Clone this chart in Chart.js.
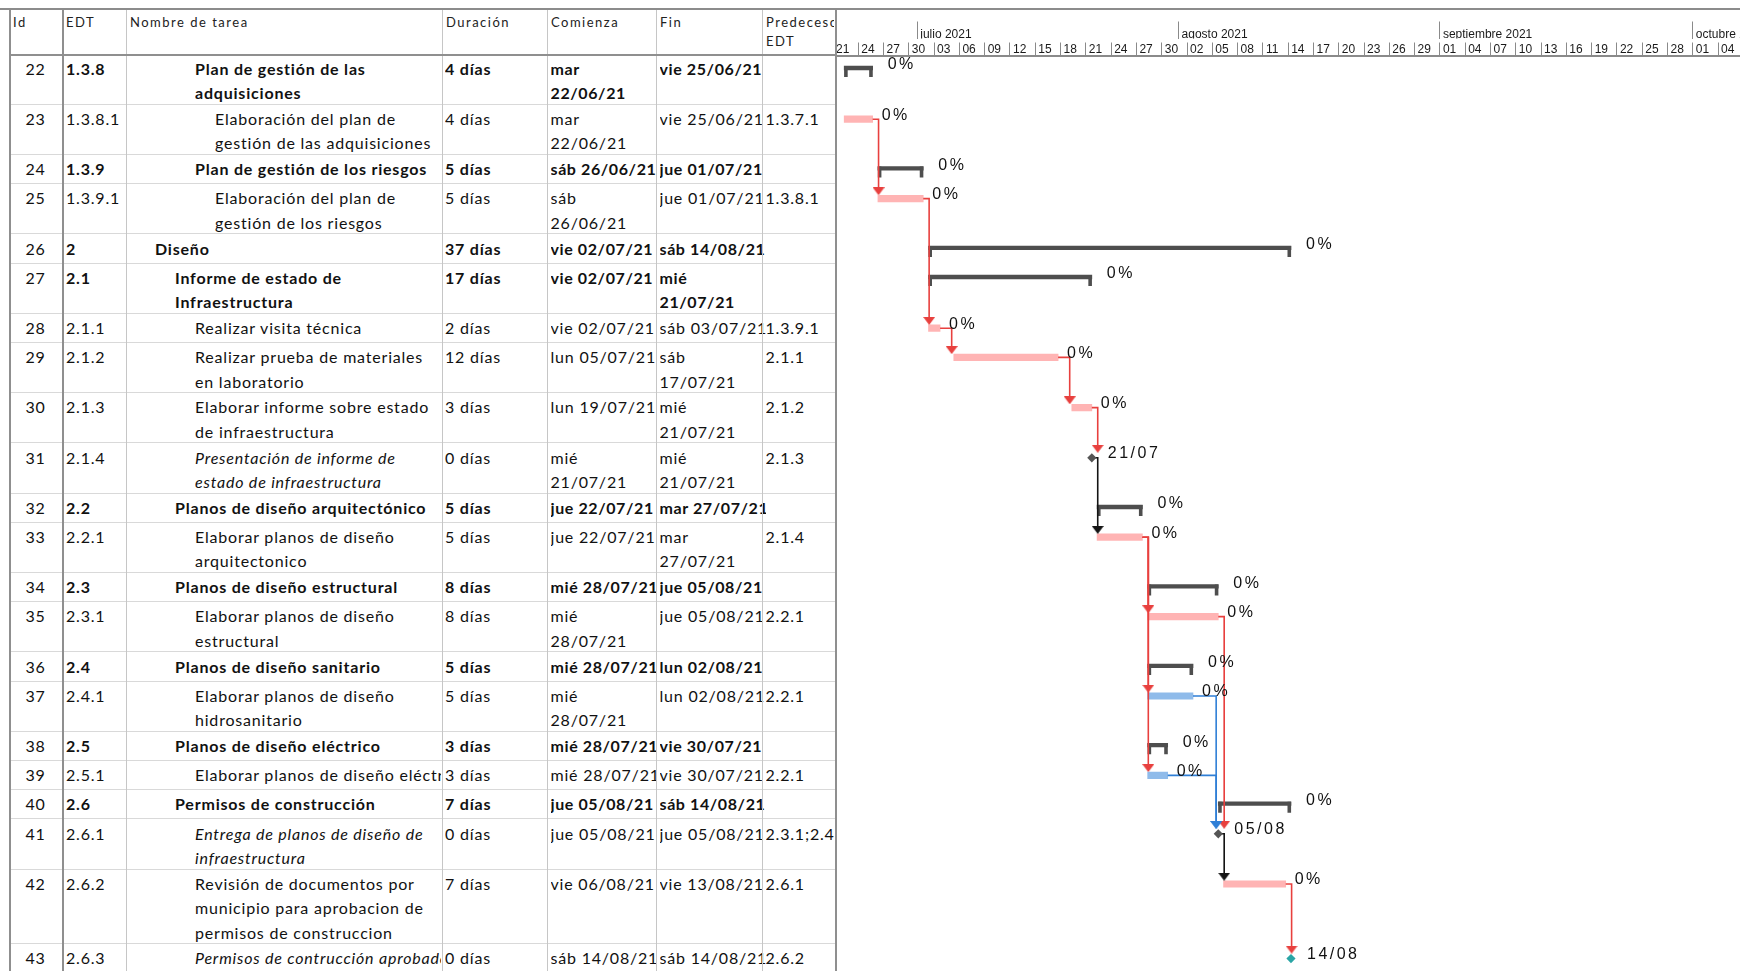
<!DOCTYPE html>
<html lang="es">
<head>
<meta charset="UTF-8" />
<title>Cronograma - Diseño</title>
<script src="https://cdn.jsdelivr.net/npm/chart.js"></script>
<style>
  html, body { margin: 0; padding: 0; background: #fff; }
  #hoja { position: relative; width: 1740px; height: 971px; overflow: hidden; font-family: Lato, "Open Sans", sans-serif; color: #111; }
  .celda { position: absolute; overflow: hidden; font-size: 16px; line-height: 24.4px; letter-spacing: 0.8px; white-space: nowrap; }
  .cab { position: absolute; overflow: hidden; font-size: 13px; line-height: 19px; letter-spacing: 1.5px; color: #222; white-space: pre; }
  .linea { position: absolute; }
  #gantt { position: absolute; left: 836px; top: 9px; width: 904px; height: 962px; }
</style>
</head>
<body>
<div id="hoja">
  <div id="gantt"><canvas id="grafico"></canvas></div>
</div>
<script>
// tareas visibles (Id 22 a 43)
const ids = [22, 23, 24, 25, 26, 27, 28, 29, 30, 31, 32, 33, 34, 35, 36, 37, 38, 39, 40, 41, 42, 43];
const edt = ['1.3.8', '1.3.8.1', '1.3.9', '1.3.9.1', '2', '2.1', '2.1.1', '2.1.2', '2.1.3', '2.1.4',
  '2.2', '2.2.1', '2.3', '2.3.1', '2.4', '2.4.1', '2.5', '2.5.1', '2.6', '2.6.1', '2.6.2', '2.6.3'];
const nombres = [
  'Plan de gestión de las\nadquisiciones',
  'Elaboración del plan de\ngestión de las adquisiciones',
  'Plan de gestión de los riesgos',
  'Elaboración del plan de\ngestión de los riesgos',
  'Diseño',
  'Informe de estado de\nInfraestructura',
  'Realizar visita técnica',
  'Realizar prueba de materiales\nen laboratorio',
  'Elaborar informe sobre estado\nde infraestructura',
  'Presentación de informe de\nestado de infraestructura',
  'Planos de diseño arquitectónico',
  'Elaborar planos de diseño\narquitectonico',
  'Planos de diseño estructural',
  'Elaborar planos de diseño\nestructural',
  'Planos de diseño sanitario',
  'Elaborar planos de diseño\nhidrosanitario',
  'Planos de diseño eléctrico',
  'Elaborar planos de diseño eléctrico',
  'Permisos de construcción',
  'Entrega de planos de diseño de\ninfraestructura',
  'Revisión de documentos por\nmunicipio para aprobacion de\npermisos de construccion',
  'Permisos de contrucción aprobados'
];
const duraciones = [4, 4, 5, 5, 37, 17, 2, 12, 3, 0, 5, 5, 8, 8, 5, 5, 3, 3, 7, 0, 7, 0];
const comienzos = ['2021-06-22 08:00', '2021-06-22 08:00', '2021-06-26 08:00', '2021-06-26 08:00',
  '2021-07-02 08:00', '2021-07-02 08:00', '2021-07-02 08:00', '2021-07-05 08:00', '2021-07-19 08:00',
  '2021-07-21 17:00', '2021-07-22 08:00', '2021-07-22 08:00', '2021-07-28 08:00', '2021-07-28 08:00',
  '2021-07-28 08:00', '2021-07-28 08:00', '2021-07-28 08:00', '2021-07-28 08:00', '2021-08-05 17:00',
  '2021-08-05 17:00', '2021-08-06 08:00', '2021-08-14 08:00'];
const fines = ['2021-06-25 17:00', '2021-06-25 17:00', '2021-07-01 17:00', '2021-07-01 17:00',
  '2021-08-14 08:00', '2021-07-21 17:00', '2021-07-03 17:00', '2021-07-17 17:00', '2021-07-21 17:00',
  '2021-07-21 17:00', '2021-07-27 17:00', '2021-07-27 17:00', '2021-08-05 17:00', '2021-08-05 17:00',
  '2021-08-02 17:00', '2021-08-02 17:00', '2021-07-30 17:00', '2021-07-30 17:00', '2021-08-14 08:00',
  '2021-08-05 17:00', '2021-08-13 17:00', '2021-08-14 08:00'];
const predecesoras = ['', '1.3.7.1', '', '1.3.8.1', '', '', '1.3.9.1', '2.1.1', '2.1.2', '2.1.3',
  '', '2.1.4', '', '2.2.1', '', '2.2.1', '', '2.2.1', '', '2.3.1;2.4.1;2.5.1', '2.6.1', '2.6.2'];
const completado = [0, 0, 0, 0, 0, 0, 0, 0, 0, 0, 0, 0, 0, 0, 0, 0, 0, 0, 0, 0, 0, 0];
const criticas = [true, true, true, true, true, true, true, true, true, true, true, true, true, true,
  true, false, true, false, true, true, true, true];

// escala de tiempo
const inicioEscala = '2021-06-21';
const pasoDias = 3;
const desdeDia = 0.36;
const diasVisibles = 107.24;
const meses = ['2021-07-01', '2021-08-01', '2021-09-01', '2021-10-01'];
const nombresMeses = ['julio 2021', 'agosto 2021', 'septiembre 2021', 'octubre 2021'];
const diasSemana = ['dom', 'lun', 'mar', 'mié', 'jue', 'vie', 'sáb'];

// ---------- utilidades de fecha ----------
const pad = n => String(n).padStart(2, '0');
function partes(s) {
  const [d, t = '00:00'] = s.split(' ');
  const [Y, M, D] = d.split('-').map(Number);
  const [h, m] = t.split(':').map(Number);
  return { Y, M, D, h, m };
}
const T0 = (() => { const p = partes(inicioEscala); return Date.UTC(p.Y, p.M - 1, p.D); })();
function dia(s) {
  const p = partes(s);
  return (Date.UTC(p.Y, p.M - 1, p.D, p.h, p.m) - T0) / 864e5;
}
function fecha(s) {
  const p = partes(s);
  const w = new Date(Date.UTC(p.Y, p.M - 1, p.D)).getUTCDay();
  return diasSemana[w] + ' ' + pad(p.D) + '/' + pad(p.M) + '/' + String(p.Y).slice(2);
}
function fechaCorta(s) { const p = partes(s); return pad(p.D) + '/' + pad(p.M); }

// ---------- estructura de filas ----------
const n = ids.length;
const esResumen = edt.map((e, i) => i + 1 < n && edt[i + 1].startsWith(e + '.'));
const esHito = duraciones.map(d => d === 0);
const nivel = edt.map(e => e.split('.').length);
const lineas = nombres.map(t => t.split('\n').length);
const altoFila = k => (k === 1 ? 29.2 : 24.4 * k + 1.4);

const CAB_TOP = 9, CAB_FONDO = 55.5, ALTO = 971;
const colX = [9, 62, 126, 442, 547, 656, 762, 835];
const ANCHO_FECHA = 106.6;

const filaTop = [];
let acc = -1;
lineas.forEach(k => { filaTop.push(acc); acc += altoFila(k); });
const filaY = filaTop.map(t => t + 14.5);   // centro de la primera línea de texto

// ---------- tabla ----------
const hoja = document.getElementById('hoja');
function div(cls, css, texto) {
  const d = document.createElement('div');
  d.className = cls;
  Object.assign(d.style, css);
  if (texto !== undefined) d.textContent = texto;
  hoja.appendChild(d);
  return d;
}
const px = v => v + 'px';

const titulos = ['Id', 'EDT', 'Nombre de tarea', 'Duración', 'Comienza', 'Fin', 'Predecesoras\nEDT'];
titulos.forEach((t, c) => {
  div('cab', { left: px(colX[c] + 4), top: px(CAB_TOP + 3.5), width: px(colX[c + 1] - colX[c] - 5), height: px(40) }, t);
});

ids.forEach((id, i) => {
  const top = CAB_FONDO + filaTop[i];
  const h = altoFila(lineas[i]);
  const multi = lineas[i] > 1;
  const peso = esResumen[i] ? 'bold' : 'normal';
  const base = (c, extra) => Object.assign({
    left: px(colX[c] + 4), width: px(colX[c + 1] - colX[c] - 5),
    top: px(top + 2.3), height: px(h - 3), fontWeight: peso
  }, extra || {});
  const celdaFecha = c => base(c, {
    left: px(colX[c] + 3.5), width: px(ANCHO_FECHA),
    whiteSpace: multi ? 'normal' : 'nowrap',
    letterSpacing: esResumen[i] ? '0.6px' : '0.8px'
  });

  div('celda', base(0, { left: px(colX[0]), width: px(colX[1] - colX[0]), textAlign: 'center', fontWeight: 'normal' }), String(id));
  div('celda', base(1), edt[i]);
  const sangria = colX[2] + 29 + 20 * (nivel[i] - 1);
  div('celda', base(2, { left: px(sangria), width: px(colX[3] - sangria - 1), whiteSpace: 'pre',
    fontStyle: esHito[i] ? 'italic' : 'normal' }), nombres[i]);
  div('celda', base(3, { left: px(colX[3] + 3) }), duraciones[i] + ' días');
  div('celda', celdaFecha(4), fecha(comienzos[i]));
  div('celda', celdaFecha(5), fecha(fines[i]));
  div('celda', base(6, { left: px(colX[6] + 3.5), fontWeight: 'normal' }), predecesoras[i]);

  div('linea', { left: px(colX[0]), top: px(top + h - 1), width: px(colX[7] - colX[0]), height: '1px', background: '#d9d9d9' });
});

// líneas de columnas y bordes
colX.forEach((x, k) => {
  const oscura = k === 0 || k === 1 || k === 7;
  div('linea', { left: px(x), top: px(CAB_TOP), width: oscura ? '1.5px' : '1px', height: px(ALTO - CAB_TOP),
    background: oscura ? '#8f8f8f' : '#c6c6c6' });
});
div('linea', { left: '0px', top: px(CAB_TOP - 1), width: '1740px', height: '2px', background: '#8c8c8c' });
div('linea', { left: px(colX[0]), top: px(CAB_FONDO - 2), width: px(colX[7] - colX[0]), height: '2px', background: '#8f8f8f' });

// ---------- diagrama de Gantt ----------
const ROJO = '#e8403e', AZUL = '#2f7fd6', NEGRO = '#141414', GRIS = '#4e4e4e';
const ROSA = '#ffb4b4', CELESTE = '#8fbbea', HITO = '#555555', HITO_FINAL = '#2aa5a5';

const marcasDias = [];
for (let v = 0; v <= desdeDia + diasVisibles; v += pasoDias) marcasDias.push(v);
const marcasMeses = meses.map(dia);

// punta de flecha de los vínculos
function punta(color) {
  const c = document.createElement('canvas');
  c.width = 12; c.height = 8;
  const g = c.getContext('2d');
  g.fillStyle = color;
  g.beginPath(); g.moveTo(0, 0); g.lineTo(12, 0); g.lineTo(6, 8); g.closePath(); g.fill();
  return c;
}
const puntas = { [ROJO]: punta(ROJO), [AZUL]: punta(AZUL), [NEGRO]: punta(NEGRO) };

const resumenIdx = ids.map((_, i) => i).filter(i => esResumen[i]);
const tareaIdx = ids.map((_, i) => i).filter(i => !esResumen[i] && !esHito[i]);
const hitoIdx = ids.map((_, i) => i).filter(i => esHito[i]);

// vínculos fin-comienzo a partir de la columna de predecesoras
const TRAMO = 0.7;
const porEdt = Object.fromEntries(edt.map((e, i) => [e, i]));
const vinculos = [];
predecesoras.forEach((p, j) => {
  if (!p) return;
  p.split(';').forEach(codigo => {
    const i = porEdt[codigo];
    if (i === undefined) return;
    const color = esHito[i] ? NEGRO : (criticas[i] ? ROJO : AZUL);
    const x0 = dia(fines[i]);
    const xv = Math.max(x0 + TRAMO, dia(comienzos[j]) - 0.25);
    const tope = filaY[j] - (esHito[j] ? 5 : 3.3);
    vinculos.push({ color, x0, xv, y0: filaY[i], tope });
  });
});

const datasets = [];
vinculos.forEach(v => datasets.push({
  type: 'scatter', showLine: true, order: 1,
  borderColor: v.color, borderWidth: 1.6, pointRadius: 0,
  data: [{ x: v.x0, y: v.y0 }, { x: v.xv, y: v.y0 }, { x: v.xv, y: v.tope - 3 }]
}));
datasets.push({
  type: 'scatter', order: 0, pointRadius: 5,
  pointStyle: vinculos.map(v => puntas[v.color]),
  data: vinculos.map(v => ({ x: v.xv, y: v.tope - 4 }))
});
datasets.push({
  type: 'scatter', order: 0, pointStyle: 'rectRot', pointRadius: 4.6, pointBorderWidth: 0,
  pointBackgroundColor: hitoIdx.map(i => (i === n - 1 ? HITO_FINAL : HITO)),
  data: hitoIdx.map(i => ({ x: dia(comienzos[i]), y: filaY[i] }))
});
datasets.push({
  type: 'bar', indexAxis: 'y', grouped: false, order: 3, barThickness: 6.5, borderWidth: 0,
  backgroundColor: tareaIdx.map(i => (criticas[i] ? ROSA : CELESTE)),
  data: tareaIdx.map(i => ({ x: [dia(comienzos[i]), dia(fines[i])], y: filaY[i] }))
});
datasets.push({
  type: 'bar', indexAxis: 'y', grouped: false, order: 4, barThickness: 3.6, borderWidth: 0,
  backgroundColor: GRIS,
  data: resumenIdx.map(i => ({ x: [dia(comienzos[i]), dia(fines[i])], y: filaY[i] - 1 }))
});
// remates de las barras de resumen
datasets.push({
  type: 'scatter', order: 4, pointStyle: 'line', pointRotation: 90, pointRadius: 5.5,
  pointBorderWidth: 3.6, pointBorderColor: GRIS,
  data: resumenIdx.flatMap(i => [
    { x: dia(comienzos[i]) + 0.2, y: filaY[i] + 2.6 },
    { x: dia(fines[i]) - 0.2, y: filaY[i] + 2.6 }
  ])
});

// textos a la derecha de cada barra: % completado o fecha del hito
const rotulos = {
  id: 'rotulos',
  afterDatasetsDraw(chart) {
    const { ctx, scales: { x, y } } = chart;
    ctx.save();
    ctx.font = '16px "Liberation Sans", Arial, sans-serif';
    ctx.letterSpacing = '2.5px';
    ctx.fillStyle = '#111';
    ctx.textBaseline = 'middle';
    ids.forEach((_, i) => {
      const txt = esHito[i] ? fechaCorta(comienzos[i]) : completado[i] + '%';
      const sep = esHito[i] ? 16 : (esResumen[i] ? 15 : 9);
      ctx.fillText(txt, x.getPixelForValue(dia(fines[i])) + sep, y.getPixelForValue(filaY[i]) - 4);
    });
    ctx.restore();
  }
};

const fuenteEscala = { family: '"Liberation Sans", Arial, sans-serif', size: 12 };
const sinMargen = alto => s => { s.height = alto; s.paddingLeft = 0; s.paddingRight = 0; };

new Chart(document.getElementById('grafico'), {
  type: 'scatter',
  data: { datasets },
  options: {
    responsive: true,
    maintainAspectRatio: false,
    animation: false,
    layout: { padding: 0, autoPadding: false },
    plugins: { legend: { display: false }, tooltip: { enabled: false } },
    scales: {
      x: {
        type: 'linear', axis: 'x', position: 'top', weight: 0,
        min: desdeDia, max: desdeDia + diasVisibles, offset: false,
        afterBuildTicks: s => { s.ticks = marcasDias.map(v => ({ value: v })); },
        afterFit: sinMargen(17),
        grid: { drawOnChartArea: false, drawTicks: true, tickLength: 13, color: '#8a8a8a', offset: false },
        border: { display: true, color: '#8a8a8a', width: 2 },
        ticks: {
          autoSkip: false, maxRotation: 0, minRotation: 0, align: 'start', labelOffset: 3, padding: -14.6,
          font: fuenteEscala, color: '#1a1a1a',
          callback: v => pad(new Date(T0 + v * 864e5).getUTCDate())
        }
      },
      meses: {
        type: 'linear', axis: 'x', position: 'top', weight: 1,
        min: desdeDia, max: desdeDia + diasVisibles, offset: false,
        afterBuildTicks: s => { s.ticks = marcasMeses.map(v => ({ value: v })); },
        afterFit: sinMargen(29.5),
        grid: { drawOnChartArea: false, drawTicks: true, tickLength: 17, color: '#8a8a8a', offset: false },
        border: { display: false },
        ticks: {
          autoSkip: false, maxRotation: 0, minRotation: 0, align: 'start', labelOffset: 3, padding: -20.5,
          font: fuenteEscala, color: '#1a1a1a',
          callback: (v, k) => nombresMeses[k]
        }
      },
      y: {
        type: 'linear', display: false, reverse: true, offset: false,
        min: 0, max: ALTO - CAB_FONDO
      }
    }
  },
  plugins: [rotulos]
});
</script>
</body>
</html>
